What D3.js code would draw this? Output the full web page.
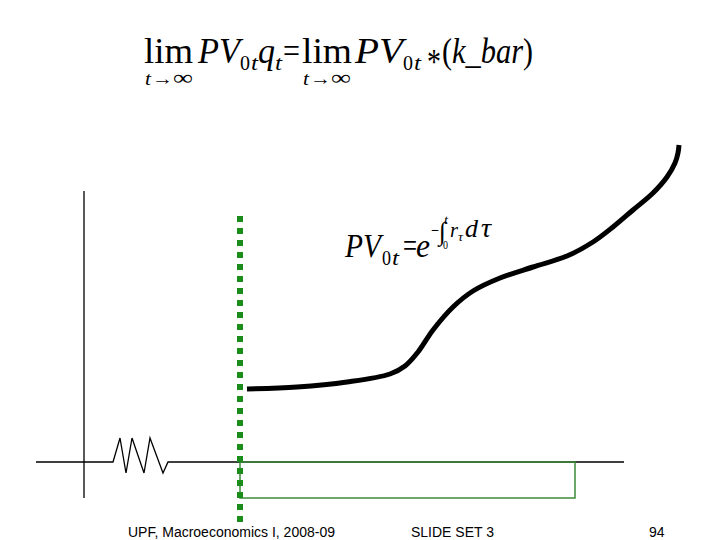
<!DOCTYPE html>
<html>
<head>
<meta charset="utf-8">
<script src="https://cdn.jsdelivr.net/npm/d3@7"></script>
<style>
  body { margin: 0; background: #fff; }
  svg text { font-family: "Liberation Serif", "Times New Roman", serif; }
  svg text.foot { font-family: "Liberation Sans", Arial, sans-serif; }
</style>
</head>
<body>
<div class="chart"></div>
<script>

// horizontal axis with the little zigzag (x, y in chart units)
var axisX = [-48, 29, 36, 42, 48, 60, 66, 79, 84, 540];
var axisY = [0, 0, 24, -11, 24, -11, 24, -11, 0, 0];

// vertical axis
var vAxisX = [0, 0];
var vAxisY = [-36, 271];

// the PV*q curve
var curveX = [163, 213, 263, 306, 321, 334, 349, 369, 389, 416, 449, 483, 509, 529, 549, 569, 583, 591, 594, 595];
var curveY = [73, 75, 80, 88, 96, 110, 132, 155, 171, 184, 195, 206, 220, 235, 252, 269, 285, 299, 309, 317];

// green dotted line at t0 and the green box
var dotX = 156;
var dotY = [246, -60];
var boxX = [156, 491];
var boxY = [0, -36];

var footer = ["UPF, Macroeconomics I, 2008-09", "SLIDE SET 3", "94"];

var w = 720, h = 540;

var svg = d3.select(".chart")
            .append("svg")
            .attr("width", w)
            .attr("height", h);

var x = d3.scaleLinear()
          .domain([-48, 540])
          .range([36, 624]);

var y = d3.scaleLinear()
          .domain([-36, 271])
          .range([498, 191]);

var line = d3.line()
             .x(function(d) { return x(d[0]); })
             .y(function(d) { return y(d[1]); });

// axes
svg.append("path")
    .attr("d", line(d3.zip(axisX, axisY)))
    .attr("fill", "none")
    .attr("stroke", "#000")
    .attr("stroke-width", 1.3);

svg.append("path")
    .attr("d", line(d3.zip(vAxisX, vAxisY)))
    .attr("fill", "none")
    .attr("stroke", "#000")
    .attr("stroke-width", 1.3);

// green box
svg.append("rect")
    .attr("x", x(boxX[0]))
    .attr("y", y(boxY[0]))
    .attr("width", x(boxX[1]) - x(boxX[0]))
    .attr("height", y(boxY[1]) - y(boxY[0]))
    .attr("fill", "none")
    .attr("stroke", "#3c8c3c")
    .attr("stroke-width", 1.5);

// dotted line
svg.append("line")
    .attr("x1", x(dotX))
    .attr("x2", x(dotX))
    .attr("y1", y(dotY[0]))
    .attr("y2", y(dotY[1]))
    .attr("stroke", "#1a8c1a")
    .attr("stroke-width", 6)
    .attr("stroke-dasharray", "6,6");

// the curve
var curve = d3.line()
              .x(function(d) { return x(d[0]); })
              .y(function(d) { return y(d[1]); })
              .curve(d3.curveCatmullRom);

svg.append("path")
    .attr("d", curve(d3.zip(curveX, curveY)))
    .attr("fill", "none")
    .attr("stroke", "#000")
    .attr("stroke-width", 5);

// helper for formula bits; wd squeezes/stretches to the width seen in the slide
function tx(str, px, py, size, italic, wd) {
    var t = svg.append("text")
        .attr("x", px)
        .attr("y", py)
        .attr("font-size", size)
        .attr("font-style", italic ? "italic" : "normal")
        .text(str);
    if (wd) t.attr("textLength", wd).attr("lengthAdjust", "spacingAndGlyphs");
    return t;
}

// top formula
tx("lim", 144, 63, 36, false, 49);
tx("t", 145, 85, 19, true, 6);
tx("\u2192", 152, 85, 19, false, 21);
tx("\u221e", 173, 85, 22, false, 20);
tx("PV", 198, 63, 36, true, 42);
tx("0", 240, 70, 22, false, 10);
tx("t", 251, 70, 22, true, 7);
tx("q", 258, 63, 36, true, 17);
tx("t", 275, 70, 22, true, 7);
tx("=", 283, 63, 36, false, 17);
tx("lim", 302, 63, 36, false, 50);
tx("t", 303, 85, 19, true, 6);
tx("\u2192", 310, 85, 19, false, 21);
tx("\u221e", 331, 85, 22, false, 20);
tx("PV", 355, 63, 36, true, 48);
tx("0", 403, 70, 22, false, 10);
tx("t", 414, 70, 22, true, 7);
tx("*", 427, 74, 36, false, 14);
tx("(", 442, 63, 36, false, 10);
tx("k_bar", 452, 63, 36, true, 71);
tx(")", 523, 63, 36, false, 10);

// PV formula
tx("PV", 345, 257, 33, true, 36);
tx("0", 382, 265, 21, false, 9);
tx("t", 392, 265, 21, true, 7);
tx("=", 403, 257, 33, false, 14);
tx("e", 416, 257, 33, true, 14);
tx("\u2212", 431, 237, 20, false, 8);
tx("\u222b", 439, 240, 26, false, 7);
tx("t", 444, 224, 12, true, 4);
tx("0", 443, 249, 12, false, 5);
tx("r", 450, 237, 22, true, 8);
tx("\u03c4", 458, 241, 12, true, 5);
tx("d", 465, 237, 26, true);
tx("\u03c4", 481, 237, 28, true);

// footer
var footX = [128, 411, 649];
svg.selectAll("text.foot")
    .data(footer)
    .enter()
    .append("text")
    .attr("class", "foot")
    .attr("x", function(d, i) { return footX[i]; })
    .attr("y", 537)
    .attr("font-size", 14)
    .attr("fill", "#000")
    .text(function(d) { return d; });

</script>
</body>
</html>
